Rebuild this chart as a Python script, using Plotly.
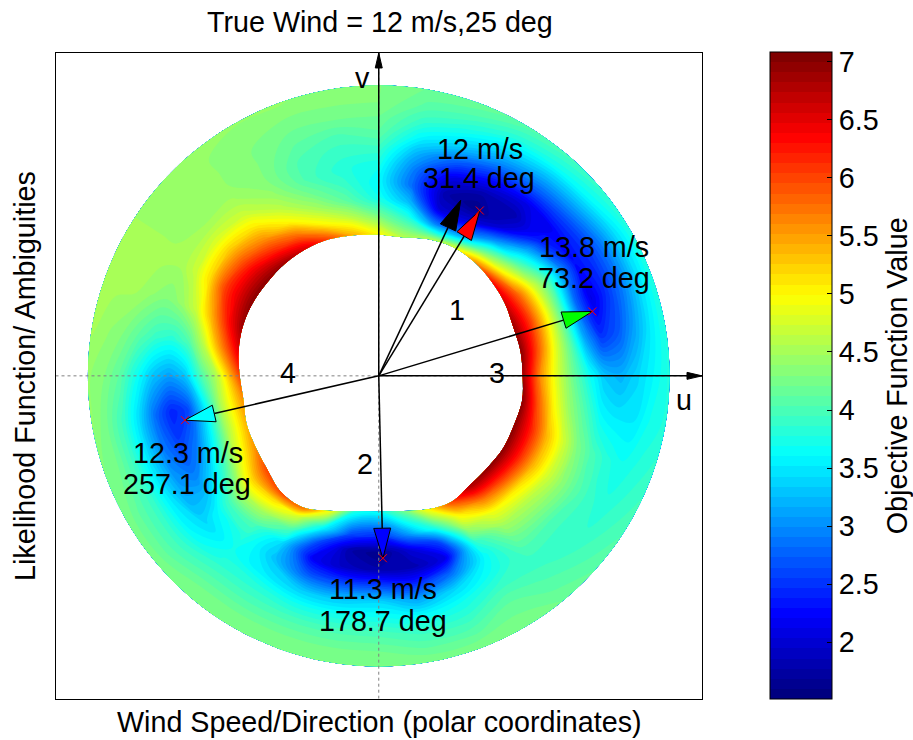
import math
import plotly.graph_objects as go

# ---------------------------------------------------------------------------
# Objective function on a polar grid: direction (deg, clockwise from north)
# by wind speed (m/s).  Each row holds the value at the inner edge of the
# valid region followed by the values at SPEED_ROWS.
# ---------------------------------------------------------------------------
DIRECTIONS = list(range(0, 360, 10))
SPEED_ROWS = [10, 11, 12, 13, 14, 15, 16, 17, 18]
INNER_EDGE = [8.75, 8.7, 9.0, 9.2, 9.2, 9.1, 9.0, 8.85, 8.9, 8.9,
              9.0, 8.9, 8.9, 8.8, 8.8, 9.0, 8.8, 8.5, 8.4, 8.5,
              8.9, 9.4, 9.4, 9.0, 8.8, 8.7, 8.5, 8.6, 8.8, 8.95,
              9.0, 9.0, 9.05, 9.05, 9.0, 8.85]
OBJECTIVE = [
    [5.0, 4.2, 3.7, 3.6, 3.7, 3.9, 4.1, 4.2, 4.3, 4.3],   # 0
    [4.6, 3.8, 3.2, 2.8, 2.9, 3.2, 3.6, 3.9, 4.1, 4.2],   # 10
    [4.6, 3.0, 2.0, 1.8, 2.1, 2.7, 3.3, 3.7, 4.0, 4.2],   # 20
    [4.8, 3.2, 2.1, 1.6, 1.8, 2.3, 2.9, 3.4, 3.8, 4.1],   # 30
    [5.6, 4.3, 3.0, 2.0, 1.8, 2.1, 2.7, 3.2, 3.7, 4.0],   # 40
    [6.3, 5.0, 4.0, 3.2, 2.4, 2.2, 2.6, 3.1, 3.6, 3.9],   # 50
    [6.6, 5.8, 4.8, 4.0, 3.0, 2.3, 2.5, 2.9, 3.4, 3.8],   # 60
    [6.9, 6.0, 5.0, 4.0, 2.8, 2.1, 2.5, 2.9, 3.4, 3.8],   # 70
    [7.0, 5.9, 4.9, 4.1, 3.1, 2.5, 2.7, 3.1, 3.5, 3.8],   # 80
    [6.9, 5.6, 4.8, 4.2, 3.7, 3.3, 3.2, 3.4, 3.6, 3.8],   # 90
    [7.0, 5.9, 5.0, 4.4, 4.0, 3.6, 3.5, 3.5, 3.7, 3.8],   # 100
    [7.0, 6.2, 5.4, 4.8, 4.3, 4.0, 3.8, 3.7, 3.8, 3.9],   # 110
    [7.0, 6.2, 5.4, 4.8, 4.4, 4.1, 3.9, 3.8, 3.9, 4.0],   # 120
    [7.0, 6.0, 5.1, 4.6, 4.3, 4.0, 3.9, 3.9, 4.0, 4.1],   # 130
    [6.9, 5.7, 4.9, 4.5, 4.2, 4.0, 3.9, 4.0, 4.1, 4.2],   # 140
    [6.0, 5.0, 4.4, 3.8, 3.6, 3.7, 3.9, 4.1, 4.2, 4.3],   # 150
    [5.0, 3.8, 2.6, 2.1, 2.8, 3.4, 3.7, 3.9, 4.1, 4.3],   # 160
    [4.2, 3.0, 2.0, 1.8, 2.4, 3.1, 3.6, 3.9, 4.1, 4.3],   # 170
    [3.7, 2.4, 1.6, 1.8, 2.6, 3.4, 3.7, 4.0, 4.2, 4.3],   # 180
    [3.8, 2.6, 1.8, 1.9, 2.6, 3.3, 3.7, 4.0, 4.2, 4.3],   # 190
    [5.0, 3.6, 2.6, 2.2, 2.7, 3.3, 3.7, 4.0, 4.2, 4.3],   # 200
    [5.8, 4.8, 4.0, 3.4, 3.3, 3.5, 3.8, 4.0, 4.2, 4.3],   # 210
    [6.0, 5.2, 4.5, 4.0, 3.8, 3.7, 3.8, 4.0, 4.2, 4.3],   # 220
    [6.0, 5.3, 4.6, 4.0, 3.6, 3.4, 3.6, 3.9, 4.1, 4.3],   # 230
    [5.6, 4.8, 4.0, 3.4, 3.0, 3.1, 3.5, 3.9, 4.1, 4.3],   # 240
    [5.4, 4.5, 3.6, 2.9, 2.6, 2.9, 3.4, 3.9, 4.2, 4.3],   # 250
    [5.6, 4.5, 3.5, 2.6, 2.4, 2.8, 3.4, 3.9, 4.2, 4.4],   # 260
    [6.0, 4.6, 4.0, 3.3, 3.1, 3.3, 3.7, 4.1, 4.3, 4.4],   # 270
    [6.5, 5.5, 4.6, 4.0, 3.8, 3.9, 4.1, 4.3, 4.4, 4.5],   # 280
    [6.9, 6.2, 5.4, 4.7, 4.4, 4.3, 4.4, 4.5, 4.5, 4.5],   # 290
    [7.0, 6.5, 6.0, 5.2, 4.7, 4.5, 4.5, 4.5, 4.5, 4.5],   # 300
    [7.0, 6.5, 5.9, 5.3, 4.8, 4.5, 4.4, 4.4, 4.4, 4.4],   # 310
    [6.9, 6.2, 5.6, 5.1, 4.7, 4.5, 4.4, 4.4, 4.4, 4.4],   # 320
    [6.6, 5.8, 5.0, 4.6, 4.4, 4.3, 4.3, 4.3, 4.3, 4.4],   # 330
    [6.0, 5.0, 4.5, 4.2, 4.0, 4.0, 4.1, 4.2, 4.3, 4.4],   # 340
    [5.4, 4.6, 4.1, 3.9, 3.8, 3.9, 4.0, 4.2, 4.3, 4.3],   # 350
]

# True wind and the ranked ambiguities
TRUE_SPEED, TRUE_DIR = 12, 25
AMB_RANK = [1, 2, 3, 4]
AMB_SPEED = [12.0, 11.3, 13.8, 12.3]
AMB_DIR = [31.4, 178.7, 73.2, 257.1]
AMB_COLOR = ["#ff0000", "#0000ff", "#00ff00", "#00ffff"]

CB_MIN, CB_MAX = 1.51, 7.08
CB_TICKS = [2, 2.5, 3, 3.5, 4, 4.5, 5, 5.5, 6, 6.5, 7]

FONT = "Liberation Sans, Arial, Helvetica, sans-serif"
FS = 28.7
W, H = 913, 740
AX_LIM = 20

JET = [
    [0.0, "rgb(0,0,128)"],
    [0.125, "rgb(0,0,255)"],
    [0.375, "rgb(0,255,255)"],
    [0.625, "rgb(255,255,0)"],
    [0.875, "rgb(255,0,0)"],
    [1.0, "rgb(128,0,0)"],
]


def uv(speed, direction):
    t = math.radians(direction)
    return speed * math.sin(t), speed * math.cos(t)


fig = go.Figure()

# --- polar grid of the objective function drawn as a filled contour on a carpet
b_vals = DIRECTIONS + [360]
a_vals = list(range(len(SPEED_ROWS) + 1))
cx, cy, cz = [], [], []
for j, d in enumerate(b_vals):
    k = j % len(DIRECTIONS)
    radii = [INNER_EDGE[k]] + SPEED_ROWS
    pts = [uv(r, d) for r in radii]
    cx.append([p[0] for p in pts])
    cy.append([p[1] for p in pts])
    cz.append(OBJECTIVE[k])

hidden = dict(showgrid=False, showline=False, showticklabels="none",
              startline=False, endline=False, minorgridcount=0,
              tickmode="array", tickvals=[])
fig.add_trace(go.Carpet(carpet="polar", a=a_vals, b=b_vals, x=cx, y=cy,
                        aaxis=dict(smoothing=0, **hidden),
                        baxis=dict(smoothing=1, **hidden)))

n_levels = 64
step = (CB_MAX - CB_MIN) / n_levels
fig.add_trace(go.Contourcarpet(
    carpet="polar", a=a_vals, b=b_vals, z=cz,
    autocontour=False,
    contours=dict(start=CB_MIN + step, end=CB_MAX - step * 0.999, size=step,
                  coloring="fill", showlines=False),
    line=dict(width=0, smoothing=1),
    colorscale=JET, zmin=CB_MIN, zmax=CB_MAX,
    colorbar=dict(
        x=770 / W, xanchor="left", xpad=0,
        y=(H - 699.3) / H, yanchor="bottom", ypad=0,
        len=646.6 / H, lenmode="fraction",
        thickness=61.7, thicknessmode="pixels",
        outlinewidth=1, outlinecolor="black",
        tickmode="array", tickvals=CB_TICKS,
        ticktext=[f"{v:g}" for v in CB_TICKS],
        ticks="inside", ticklen=5, tickcolor="black",
        tickfont=dict(family=FONT, size=FS, color="black"),
        title=dict(text="Objective Function Value", side="right",
                   font=dict(family=FONT, size=FS, color="black")),
    ),
))

# --- dotted reference lines through the origin
fig.add_trace(go.Scatter(x=[-AX_LIM, AX_LIM], y=[0, 0], mode="lines",
                         line=dict(color="gray", width=1, dash="dot"),
                         hoverinfo="skip", showlegend=False))
fig.add_trace(go.Scatter(x=[0, 0], y=[-AX_LIM, AX_LIM], mode="lines",
                         line=dict(color="gray", width=1, dash="dot"),
                         hoverinfo="skip", showlegend=False))

# --- u and v axis arrows
px_per_unit = (702 - 55.5) / (2 * AX_LIM)
ax_head_len = 15 / px_per_unit
ax_head_half = 3.5 / px_per_unit
for end, head in [
    ((AX_LIM, 0), [(AX_LIM, 0), (AX_LIM - ax_head_len, ax_head_half),
                   (AX_LIM - ax_head_len, -ax_head_half), (AX_LIM, 0)]),
    ((0, AX_LIM), [(0, AX_LIM), (ax_head_half, AX_LIM - ax_head_len),
                   (-ax_head_half, AX_LIM - ax_head_len), (0, AX_LIM)]),
]:
    fig.add_trace(go.Scatter(x=[0, end[0]], y=[0, end[1]], mode="lines",
                             line=dict(color="black", width=1.5),
                             hoverinfo="skip", showlegend=False))
    fig.add_trace(go.Scatter(x=[p[0] for p in head], y=[p[1] for p in head],
                             mode="lines", fill="toself", fillcolor="black",
                             line=dict(color="black", width=1),
                             hoverinfo="skip", showlegend=False))

# --- wind vectors: true wind (black) and the four ambiguities
head_len = 30 / px_per_unit
head_half = 8.5 / px_per_unit


def add_vector(speed, direction, color):
    t = math.radians(direction)
    ex, ey = math.sin(t), math.cos(t)
    nx, ny = math.cos(t), -math.sin(t)
    tx, ty = speed * ex, speed * ey
    bx, by = tx - head_len * ex, ty - head_len * ey
    fig.add_trace(go.Scatter(x=[0, bx], y=[0, by], mode="lines",
                             line=dict(color="black", width=1.5),
                             hoverinfo="skip", showlegend=False))
    fig.add_trace(go.Scatter(
        x=[tx, bx + head_half * nx, bx - head_half * nx, tx],
        y=[ty, by + head_half * ny, by - head_half * ny, ty],
        mode="lines", fill="toself", fillcolor=color,
        line=dict(color="black", width=1),
        hoverinfo="skip", showlegend=False))


add_vector(TRUE_SPEED, TRUE_DIR, "black")
for s, d, c in zip(AMB_SPEED, AMB_DIR, AMB_COLOR):
    add_vector(s, d, c)

tips = [uv(s, d) for s, d in zip(AMB_SPEED, AMB_DIR)]
fig.add_trace(go.Scatter(x=[p[0] for p in tips], y=[p[1] for p in tips],
                         mode="markers",
                         marker=dict(symbol="x-thin", size=8,
                                     line=dict(color="red", width=1)),
                         hoverinfo="skip", showlegend=False))

# --- annotations


def to_data(px, py):
    cx0, cy0 = (55.5 + 702) / 2, (53 + 698.7) / 2
    return (px - cx0) / px_per_unit, (cy0 - py) / px_per_unit


annotations = []


def label(text, px, py, **kw):
    x, y = to_data(px, py)
    annotations.append(dict(x=x, y=y, xref="x", yref="y", text=text,
                            showarrow=False, xanchor="center", yanchor="middle",
                            font=dict(family=FONT, size=FS, color="black"), **kw))


label("u", 684, 400)
label("v", 362, 78)

rank_pos = {1: (457, 310), 2: (365, 464), 3: (497, 373), 4: (288, 373)}
for r in AMB_RANK:
    label(str(r), *rank_pos[r])

text_pos = {1: ((480, 149), (479, 178)),
            2: ((383, 589), (383, 621)),
            3: ((594, 247), (594, 278)),
            4: ((188, 453), (187, 484))}
for r, s, d in zip(AMB_RANK, AMB_SPEED, AMB_DIR):
    (p1, p2) = text_pos[r]
    label(f"{s:g} m/s", *p1)
    label(f"{d:g} deg", *p2)


def paper_label(text, px, py, angle=0):
    annotations.append(dict(x=px / W, y=1 - py / H, xref="paper", yref="paper",
                            text=text, showarrow=False, textangle=angle,
                            xanchor="center", yanchor="middle",
                            font=dict(family=FONT, size=FS, color="black")))


paper_label(f"True Wind = {TRUE_SPEED} m/s,{TRUE_DIR} deg", 380, 22)
paper_label("Wind Speed/Direction (polar coordinates)", 379, 722)
paper_label("Likelihood Function/ Ambiguities", 25, 376, angle=-90)

axis_common = dict(range=[-AX_LIM, AX_LIM], showgrid=False, zeroline=False,
                   showticklabels=False, ticks="", showline=True, mirror=True,
                   linecolor="black", linewidth=1)
fig.update_layout(
    width=W, height=H, autosize=False,
    margin=dict(l=0, r=0, t=0, b=0),
    paper_bgcolor="white", plot_bgcolor="white",
    showlegend=False,
    xaxis=dict(domain=[55.5 / W, 702 / W], **axis_common),
    yaxis=dict(domain=[(H - 698.7) / H, (H - 53) / H], **axis_common),
    annotations=annotations,
)

fig.write_html("out.html")
